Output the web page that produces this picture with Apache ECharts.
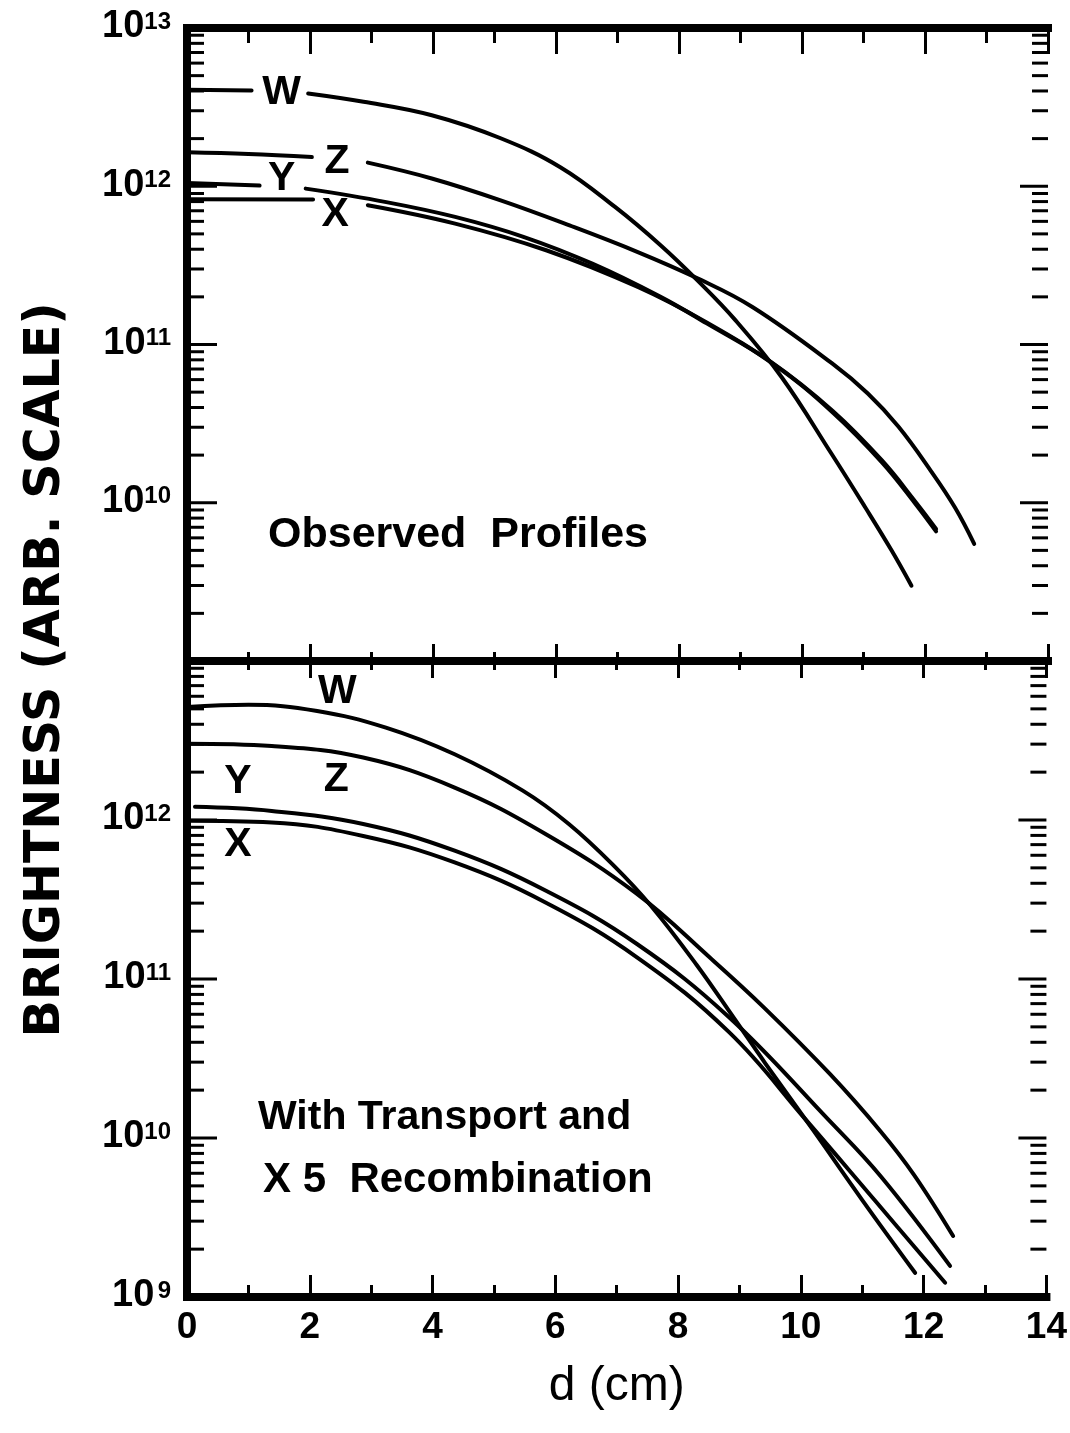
<!DOCTYPE html>
<html>
<head>
<meta charset="utf-8">
<title>Brightness profiles</title>
<script src="https://cdn.jsdelivr.net/npm/echarts@6/dist/echarts.min.js"></script>
<style>
  html, body { margin: 0; padding: 0; background: #fff; }
  #chart { width: 1070px; height: 1433px; }
</style>
</head>
<body>
<div id="chart"></div>
<script>
// ---------- data: distance d (cm) and brightness (arb. scale) ----------
// Upper panel: observed profiles. Lines are interrupted where the letter sits.
const obsW_d1 = [0, 1.05];
const obsW_b1 = [4.07e12, 4.03e12];
const obsW_d2 = [1.97, 2.87, 3.98, 5.1, 6.07, 6.96, 7.7, 8.3, 8.92, 9.67, 10.48, 11.03, 11.46, 11.78];
const obsW_b2 = [3.86e12, 3.42e12, 2.81e12, 2.01e12, 1.32e12, 7.4e11, 4.24e11, 2.54e11, 1.42e11, 6.21e10, 2.04e10, 9.33e9, 4.97e9, 2.99e9];

const obsZ_d1 = [0, 1.0, 2.03];
const obsZ_b1 = [1.64e12, 1.60e12, 1.53e12];
const obsZ_d2 = [2.94, 3.98, 5.1, 6.22, 7.33, 8.3, 9.2, 10.49, 11.07, 11.57, 12.1, 12.49, 12.8];
const obsZ_b2 = [1.41e12, 1.12e12, 8.15e11, 5.66e11, 3.84e11, 2.62e11, 1.72e11, 7.59e10, 4.9e10, 3.02e10, 1.58e10, 9.3e9, 5.5e9];

const obsY_d1 = [0, 1.18];
const obsY_b1 = [1.05e12, 1.01e12];
const obsY_d2 = [1.93, 3.24, 4.36, 5.47, 6.59, 7.7, 8.45, 9.5, 10.5, 11.3, 11.84, 12.18];
const obsY_b2 = [9.66e11, 7.94e11, 6.4e11, 4.79e11, 3.24e11, 2.0e11, 1.36e11, 7.73e10, 3.8e10, 1.85e10, 1.02e10, 6.84e9];

const obsX_d1 = [0, 2.05];
const obsX_b1 = [8.28e11, 8.24e11];
const obsX_d2 = [2.94, 4.36, 5.84, 7.33, 8.45, 9.57, 10.5, 11.3, 11.84, 12.18];
const obsX_b2 = [7.59e11, 5.81e11, 3.94e11, 2.31e11, 1.38e11, 7.36e10, 3.72e10, 1.8e10, 9.9e9, 6.6e9];

// Lower panel: with transport and x5 recombination.
const calcW_d = [0, 1.0, 2.12, 3.24, 4.36, 5.47, 6.22, 6.96, 7.56, 8.3, 8.9, 9.42, 10.2, 11.0, 11.86];
const calcW_b = [5.13e12, 5.3e12, 4.85e12, 3.81e12, 2.59e12, 1.53e12, 9.44e11, 5.13e11, 2.88e11, 1.23e11, 5.75e10, 2.95e10, 1.12e10, 4.07e9, 1.42e9];

const calcZ_d = [0, 1.38, 2.87, 4.36, 5.84, 7.33, 8.53, 9.4, 10.48, 11.3, 11.84, 12.48];
const calcZ_b = [3.02e12, 2.92e12, 2.47e12, 1.6e12, 8.17e11, 3.43e11, 1.35e11, 6.61e10, 2.51e10, 1.1e10, 5.89e9, 2.42e9];

const calcY_d = [0.13, 1.38, 2.87, 4.36, 5.84, 7.33, 8.83, 10.46, 11.3, 12.43];
const calcY_b = [1.21e12, 1.14e12, 9.44e11, 6.41e11, 3.6e11, 1.66e11, 5.75e10, 1.29e10, 5.75e9, 1.57e9];

const calcX_d = [0, 1.38, 2.87, 4.36, 5.84, 7.33, 8.83, 10.09, 11.2, 12.35];
const calcX_b = [9.89e11, 9.66e11, 7.94e11, 5.41e11, 3.03e11, 1.37e11, 4.63e10, 1.29e10, 4.07e9, 1.23e9];

// Curve letters: [letter, d, brightness]
const obsLetters  = [['W', 1.54, 3.88e12], ['Z', 2.44, 1.44e12], ['Y', 1.54, 1.12e12], ['X', 2.41, 6.65e11]];
const calcLetters = [['W', 2.45, 6.38e12], ['Z', 2.43, 1.79e12], ['Y', 0.83, 1.74e12], ['X', 0.83, 7.0e11]];

// Axis ticks
const xTickLabels = ['0', '2', '4', '6', '8', '10', '12', '14'];
const decadeExponents = [9, 10, 11, 12, 13];
const minorMultipliers = [2, 3, 4, 5, 6, 7, 8, 9];

// ---------- helpers ----------
const FONT = '"Liberation Sans", Arial, Helvetica, sans-serif';
const WIDE = '"DejaVu Sans", "Liberation Sans", sans-serif';
const INK = '#000';

function zip(ds, bs) { return ds.map((d, i) => [d, bs[i]]); }

// tick marks on the log axes: [x, value, isMajor]
const yTickData = [];
decadeExponents.forEach((e, k) => {
  yTickData.push([0, Math.pow(10, e), 1]);
  if (k < decadeExponents.length - 1) {
    minorMultipliers.forEach(m => yTickData.push([0, m * Math.pow(10, e), 0]));
  }
});

function curve(ds, bs, xi, yi) {
  return {
    type: 'line', xAxisIndex: xi, yAxisIndex: yi,
    data: zip(ds, bs), symbol: 'none', showSymbol: false,
    smooth: 0.4, silent: true,
    lineStyle: { color: INK, width: 4, cap: 'round', join: 'round' }
  };
}

// curve letters drawn as text at data coordinates
function letters(list, xi, yi) {
  return {
    type: 'custom', xAxisIndex: xi, yAxisIndex: yi, silent: true, clip: false,
    data: list.map(l => [l[1], l[2]]),
    renderItem: function (params, api) {
      const p = api.coord([api.value(0), api.value(1)]);
      return {
        type: 'text', x: p[0], y: p[1],
        style: {
          text: list[params.dataIndex][0],
          font: 'bold 41px ' + FONT, fill: INK,
          align: 'center', verticalAlign: 'middle',
          textAlign: 'center', textVerticalAlign: 'middle'
        }
      };
    }
  };
}

function yTicks(xi, yi) {
  return {
    type: 'custom', xAxisIndex: xi, yAxisIndex: yi, silent: true, clip: false,
    data: yTickData,
    renderItem: function (params, api) {
      const v = api.value(1);
      const major = api.value(2) === 1;
      const pl = api.coord([0, v]);
      const pr = api.coord([14, v]);
      const lenL = major ? 30 : 17;
      const lenR = major ? 28 : 16;
      const style = { stroke: INK, lineWidth: 3 };
      return {
        type: 'group',
        children: [
          { type: 'line', shape: { x1: pl[0], y1: pl[1], x2: pl[0] + lenL, y2: pl[1] }, style },
          { type: 'line', shape: { x1: pr[0] - lenR, y1: pr[1], x2: pr[0], y2: pr[1] }, style }
        ]
      };
    }
  };
}

function xAxisCfg(gridIndex, position, tickLen, minorLen, showLabels) {
  return {
    type: 'value', gridIndex, position, min: 0, max: 14, interval: 2,
    axisLine: { show: true, onZero: false, lineStyle: { color: INK, width: 8, cap: 'square' } },
    axisTick: { show: true, inside: true, length: tickLen, lineStyle: { color: INK, width: 3 } },
    minorTick: { show: true, splitNumber: 2, length: minorLen, lineStyle: { color: INK, width: 3 } },
    splitLine: { show: false }, minorSplitLine: { show: false },
    axisLabel: {
      show: showLabels, margin: 12,
      formatter: v => xTickLabels[Math.round(v / 2)] || '',
      fontFamily: FONT, fontWeight: 'bold', fontSize: 37, color: INK
    }
  };
}

function yAxisCfg(gridIndex, position, hiddenExp, showLabels) {
  return {
    type: 'log', logBase: 10, gridIndex, position, min: 1e9, max: 1e13,
    axisLine: { show: true, lineStyle: { color: INK, width: 8, cap: 'square' } },
    axisTick: { show: false },
    splitLine: { show: false },
    axisLabel: {
      show: showLabels, margin: 16,
      formatter: function (v) {
        const e = Math.round(Math.log10(v));
        if (e === hiddenExp) return '';
        return e === 9 ? '{b|10} {s|9}' : '{b|10}{s|' + e + '}';
      },
      rich: {
        b: { fontFamily: FONT, fontWeight: 'bold', fontSize: 38, lineHeight: 36, color: INK, verticalAlign: 'bottom' },
        s: { fontFamily: FONT, fontWeight: 'bold', fontSize: 24, lineHeight: 22, color: INK, verticalAlign: 'top' }
      }
    }
  };
}

// ---------- chart ----------
const chart = echarts.init(document.getElementById('chart'), null, { renderer: 'canvas' });

const option = {
  animation: false,
  backgroundColor: '#fff',
  grid: [
    { left: 187, top: 28, width: 861, height: 633 },
    { left: 187, top: 661, width: 861, height: 636 }
  ],
  xAxis: [
    xAxisCfg(0, 'top', 26, 15, false),
    xAxisCfg(0, 'bottom', 17, 9, false),
    xAxisCfg(1, 'top', 17, 9, false),
    Object.assign(xAxisCfg(1, 'bottom', 22, 12, true), {
      name: 'd (cm)', nameLocation: 'middle', nameGap: 66,
      nameTextStyle: { fontFamily: FONT, fontSize: 48, color: INK }
    })
  ],
  yAxis: [
    yAxisCfg(0, 'left', 9, true),
    yAxisCfg(0, 'right', null, false),
    yAxisCfg(1, 'left', 13, true),
    yAxisCfg(1, 'right', null, false)
  ],
  series: [
    yTicks(0, 0),
    yTicks(2, 2),
    curve(obsW_d1, obsW_b1, 0, 0), curve(obsW_d2, obsW_b2, 0, 0),
    curve(obsZ_d1, obsZ_b1, 0, 0), curve(obsZ_d2, obsZ_b2, 0, 0),
    curve(obsY_d1, obsY_b1, 0, 0), curve(obsY_d2, obsY_b2, 0, 0),
    curve(obsX_d1, obsX_b1, 0, 0), curve(obsX_d2, obsX_b2, 0, 0),
    curve(calcW_d, calcW_b, 2, 2),
    curve(calcZ_d, calcZ_b, 2, 2),
    curve(calcY_d, calcY_b, 2, 2),
    curve(calcX_d, calcX_b, 2, 2),
    letters(obsLetters, 0, 0),
    letters(calcLetters, 2, 2)
  ],
  graphic: [
    {
      type: 'text', x: 268, y: 535, silent: true,
      style: { text: 'Observed  Profiles', font: 'bold 43px ' + FONT, fill: INK,
               textAlign: 'left', textVerticalAlign: 'middle', align: 'left', verticalAlign: 'middle' }
    },
    {
      type: 'text', x: 258, y: 1118, silent: true,
      style: { text: 'With Transport and', font: 'bold 41px ' + FONT, fill: INK,
               textAlign: 'left', textVerticalAlign: 'middle', align: 'left', verticalAlign: 'middle' }
    },
    {
      type: 'text', x: 263, y: 1180, silent: true,
      style: { text: 'X 5  Recombination', font: 'bold 42px ' + FONT, fill: INK,
               textAlign: 'left', textVerticalAlign: 'middle', align: 'left', verticalAlign: 'middle' }
    },
    {
      type: 'text', x: 46, y: 670, rotation: Math.PI / 2, silent: true,
      style: { text: 'BRIGHTNESS (ARB. SCALE)', font: 'bold 49px ' + WIDE, fill: INK,
               textAlign: 'center', textVerticalAlign: 'middle', align: 'center', verticalAlign: 'middle' }
    }
  ]
};

chart.setOption(option);
</script>
</body>
</html>
